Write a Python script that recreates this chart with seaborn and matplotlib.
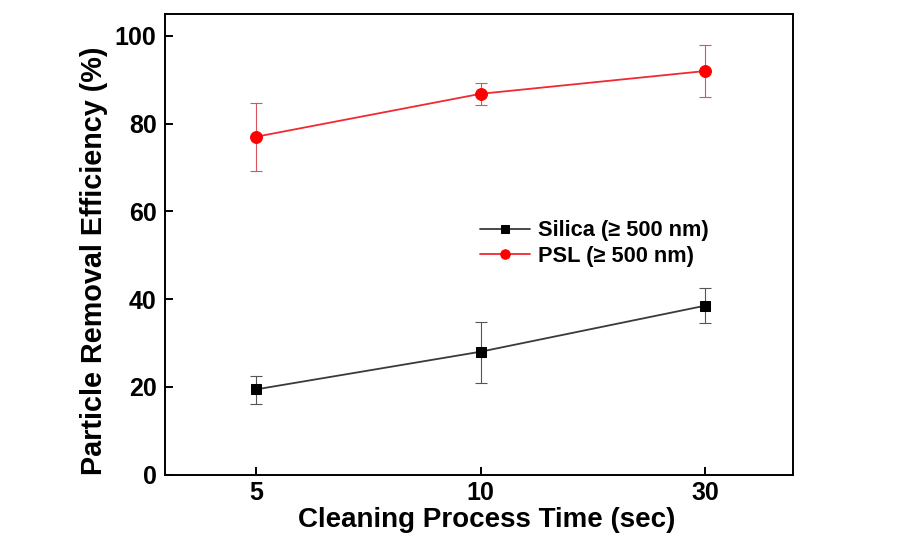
import matplotlib
matplotlib.use('Agg')
import matplotlib.pyplot as plt
import seaborn as sns
import pandas as pd

# Данные графика
times = ['5', '10', '30']
silica = [19.4, 28.0, 38.5]
silica_lo = [16.1, 20.9, 34.5]
silica_hi = [22.5, 34.8, 42.6]
psl = [77.0, 86.8, 92.0]
psl_lo = [69.2, 84.2, 86.0]
psl_hi = [84.6, 89.3, 97.9]

sns.set_style('ticks')
plt.rcParams['font.family'] = ['Liberation Sans', 'DejaVu Sans']
plt.rcParams['font.weight'] = 'bold'
plt.rcParams['text.color'] = 'black'
plt.rcParams['axes.labelcolor'] = 'black'
plt.rcParams['xtick.color'] = 'black'
plt.rcParams['ytick.color'] = 'black'

SILICA = 'Silica (\u2265 500 nm)'
PSL = 'PSL (\u2265 500 nm)'

df = pd.DataFrame({
    'time': times * 2,
    'value': silica + psl,
    'series': [SILICA] * 3 + [PSL] * 3,
})

fig = plt.figure(figsize=(9.21, 5.38), dpi=100)
ax = fig.add_axes([0.179, 0.118, 0.682, 0.856])

palette = {SILICA: '#000000', PSL: '#ff0000'}
line_colors = {SILICA: '#3a3a3a', PSL: '#f02a30'}

# Погрешности
ax.errorbar(times, silica,
            yerr=[[v - l for v, l in zip(silica, silica_lo)],
                  [h - v for v, h in zip(silica, silica_hi)]],
            fmt='none', ecolor='#555555', elinewidth=0.8, capsize=4, capthick=0.8, zorder=2)
ax.errorbar(times, psl,
            yerr=[[v - l for v, l in zip(psl, psl_lo)],
                  [h - v for v, h in zip(psl, psl_hi)]],
            fmt='none', ecolor='#d9545c', elinewidth=0.8, capsize=4, capthick=0.8, zorder=2)

for name, marker, ms in [(SILICA, 's', 7), (PSL, 'o', 8.5)]:
    sub = df[df.series == name]
    sns.lineplot(data=sub, x='time', y='value', ax=ax, color=line_colors[name],
                 linewidth=1.3, marker=marker, markersize=ms,
                 markerfacecolor=palette[name], markeredgecolor=palette[name],
                 label=name, zorder=3)

ax.set_xlim(-0.405, 2.39)
ax.set_ylim(0, 105)
ax.set_yticks([0, 20, 40, 60, 80, 100])

for side in ax.spines.values():
    side.set_linewidth(1.4)
    side.set_color('black')

ax.tick_params(axis='both', direction='in', length=6, width=1.4, labelsize=18)
ax.tick_params(axis='x', pad=5)
ax.tick_params(axis='y', pad=6)
for lab in ax.get_xticklabels() + ax.get_yticklabels():
    lab.set_fontweight('bold')

ax.set_xlabel('Cleaning Process Time (sec)', fontsize=20, fontweight='bold', labelpad=1)
ax.set_ylabel('Particle Removal Efficiency (%)', fontsize=20.7, fontweight='bold', labelpad=5)
ax.xaxis.label.set_x(0.512)
ax.yaxis.label.set_y(0.464)

leg = ax.legend(loc='center left', bbox_to_anchor=(0.502, 0.502), frameon=False,
                fontsize=15.7, handlelength=2.3, handletextpad=0.37, borderpad=0,
                borderaxespad=0, labelspacing=0.2, markerscale=0.8)
for t in leg.get_texts():
    t.set_fontweight('bold')

fig.savefig('out.png', dpi=100)
plt.close(fig)
